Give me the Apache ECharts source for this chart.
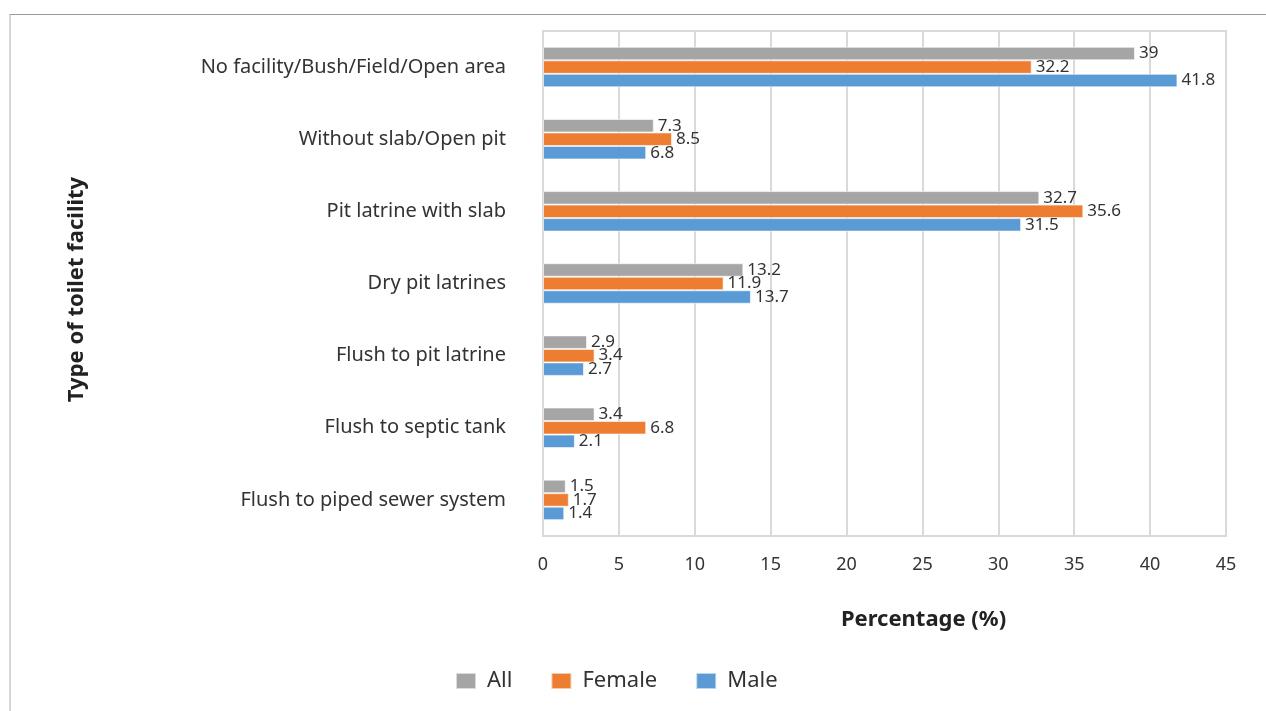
<!DOCTYPE html>
<html>
<head>
<meta charset="utf-8">
<script src="https://cdn.jsdelivr.net/npm/echarts@6/dist/echarts.min.js"></script>
<style>
    html, body { margin: 0; padding: 0; background: #fff; }
    #frame {
        position: absolute; left: 9px; top: 14px; width: 1257px; height: 697px;
        border-top: 1px solid #9a9a9a; border-left: 2px solid #d6d6d6;
    }
    #chart { position: absolute; left: 0; top: 0; width: 1266px; height: 711px; }
</style>
</head>
<body>
<div id="frame"></div>
<div id="chart"></div>
<script>
// categories, top to bottom
const categories = [
    'No facility/Bush/Field/Open area',
    'Without slab/Open pit',
    'Pit latrine with slab',
    'Dry pit latrines',
    'Flush to pit latrine',
    'Flush to septic tank',
    'Flush to piped sewer system'
];
const allValues = [39, 7.3, 32.7, 13.2, 2.9, 3.4, 1.5];
const femaleValues = [32.2, 8.5, 35.6, 11.9, 3.4, 6.8, 1.7];
const maleValues = [41.8, 6.8, 31.5, 13.7, 2.7, 2.1, 1.4];
const xTicks = [0, 5, 10, 15, 20, 25, 30, 35, 40, 45];

const chart = echarts.init(document.getElementById('chart'));
const font = '"Noto Sans", sans-serif';

// 每個系列共用的柱子樣式
function barSeries(name, data, color) {
    return {
        name: name,
        type: 'bar',
        data: data,
        barWidth: 13.5,
        barGap: '0%',
        itemStyle: { color: color, borderColor: 'rgba(255,255,255,0.6)', borderWidth: 1 },
        label: {
            show: true,
            position: 'right',
            distance: 4,
            color: '#333',
            fontSize: 17,
            fontFamily: font
        }
    };
}

const option = {
    animation: false,
    grid: { left: 543, right: 40, top: 31, bottom: 175, show: true, borderColor: '#d9d9d9', borderWidth: 2 },
    legend: {
        data: ['All', 'Female', 'Male'],
        icon: 'rect',
        left: 450,
        top: 665,
        itemWidth: 20,
        itemHeight: 16,
        itemGap: 38,
        textStyle: { fontSize: 22, color: '#333', fontFamily: font, padding: [0, 0, 0, 6] }
    },
    xAxis: {
        type: 'value',
        min: 0,
        max: 45,
        interval: 5,
        name: 'Percentage (%)',
        nameLocation: 'middle',
        nameGap: 73,
        nameTextStyle: { fontSize: 22, fontWeight: 'bold', color: '#222', fontFamily: font, padding: [0, 0, 0, 78] },
        axisLine: { show: false },
        axisTick: { show: false },
        axisLabel: {
            margin: 20,
            fontSize: 18,
            color: '#333',
            fontFamily: font,
            formatter: v => xTicks.includes(v) ? String(v) : ''
        },
        splitLine: { lineStyle: { color: '#d9d9d9', width: 2 } }
    },
    yAxis: {
        type: 'category',
        inverse: true,
        data: categories,
        name: 'Type of toilet facility',
        nameLocation: 'middle',
        nameRotate: 90,
        nameGap: 455,
        nameTextStyle: { fontSize: 22, fontWeight: 'bold', color: '#222', fontFamily: font, padding: [0, 12, 0, 0] },
        axisLine: { show: false },
        axisTick: { show: false },
        axisLabel: { margin: 37, fontSize: 20, color: '#333', fontFamily: font, padding: [3, 0, 0, 0] }
    },
    series: [
        barSeries('All', allValues, '#a5a5a5'),
        barSeries('Female', femaleValues, '#ed7d31'),
        barSeries('Male', maleValues, '#5b9bd5')
    ]
};

chart.setOption(option);
window.addEventListener('resize', () => chart.resize());
</script>
</body>
</html>
